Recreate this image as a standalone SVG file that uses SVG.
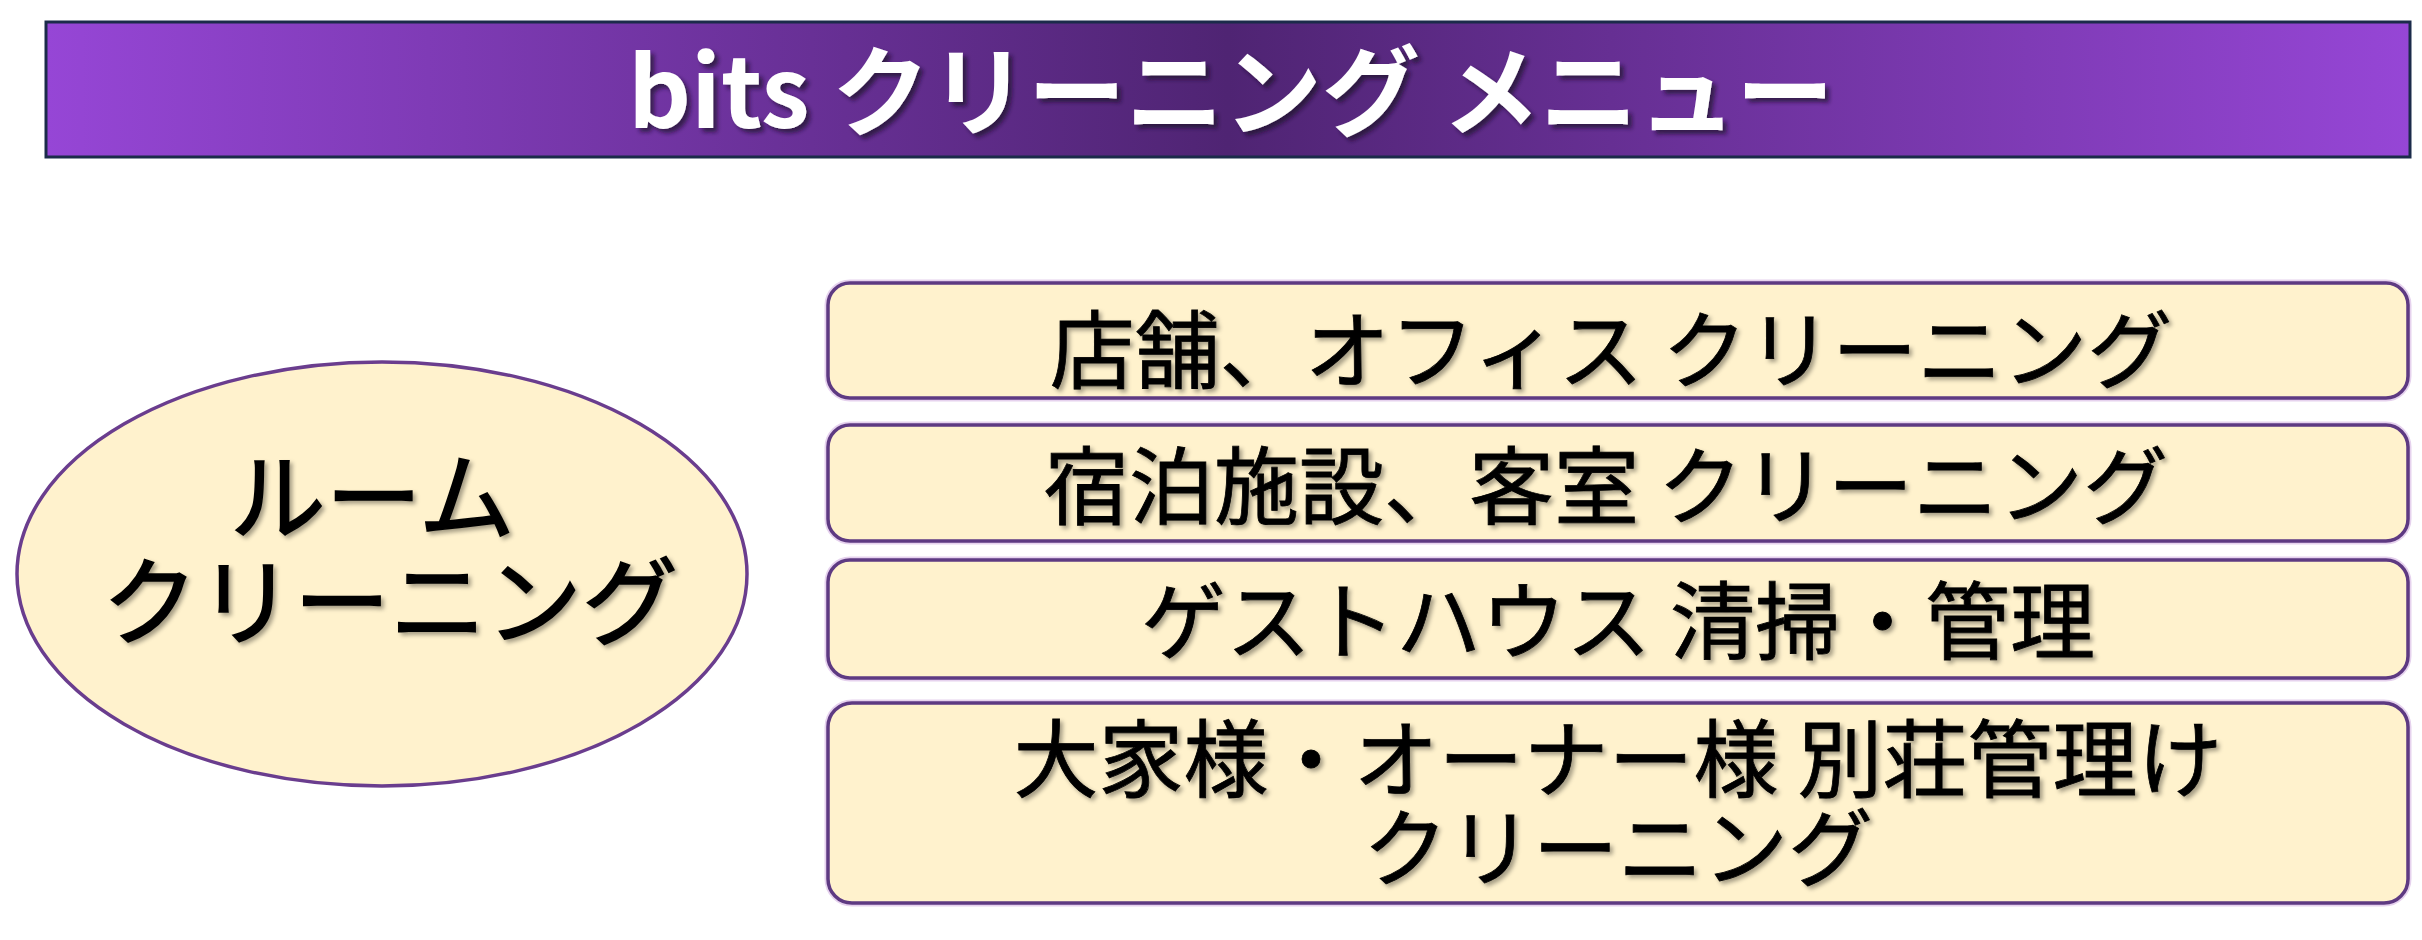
<svg xmlns="http://www.w3.org/2000/svg" width="2422" height="940" viewBox="0 0 2422 940">
<style>
  .jp { font-family: "Noto Sans CJK JP", "Noto Sans", sans-serif; }
  .title { font-size: 98px; font-weight: bold; fill: #ffffff; }
  .lbl { font-size: 85px; font-weight: normal; fill: #000000; stroke: #000000; stroke-width: 0.8; }
  .big { font-size: 96px; font-weight: normal; fill: #000000; stroke: #000000; stroke-width: 1.6; }
  .box { fill: #fff2cd; stroke: #5e3a82; stroke-width: 3.5; }
  .halo { fill: none; stroke: #e6d2ee; stroke-width: 7; }
</style>
<defs>
  <linearGradient id="titleGrad" x1="0" y1="0" x2="1" y2="0">
    <stop offset="0" stop-color="#9646d6"/>
    <stop offset="0.5" stop-color="#4f2473"/>
    <stop offset="1" stop-color="#9646d6"/>
  </linearGradient>
  <filter id="shadowDark" x="-10%" y="-20%" width="120%" height="150%">
    <feDropShadow dx="4" dy="4" stdDeviation="2" flood-color="#1a0a2a" flood-opacity="0.7"/>
  </filter>
  <filter id="shadowGrey" x="-10%" y="-20%" width="120%" height="150%">
    <feDropShadow dx="3" dy="3" stdDeviation="2" flood-color="#000000" flood-opacity="0.35"/>
  </filter>
</defs>
<rect width="2422" height="940" fill="#ffffff"/>

<g id="title">
  <rect x="46" y="22" width="2364" height="135" fill="url(#titleGrad)" stroke="#1b2b4a" stroke-width="3"/>
  <text class="jp title" x="1231" y="128" text-anchor="middle" filter="url(#shadowDark)" xml:space="preserve">bits クリーニング メニュー</text>
</g>

<g id="room-cleaning">
  <ellipse cx="382" cy="574" rx="365" ry="212" fill="#fff2cd" stroke="#6a3d8e" stroke-width="3.5"/>
  <text class="jp big" text-anchor="middle" filter="url(#shadowGrey)">
    <tspan x="383" y="532">ルーム</tspan>
    <tspan x="390" y="637">クリーニング</tspan>
  </text>
</g>

<g id="connectors"></g>

<g id="menu-store-office">
  <rect class="halo" x="828" y="283" width="1580" height="115" rx="22"/>
  <rect class="box" x="828" y="283" width="1580" height="115" rx="22"/>
  <text class="jp lbl" x="1611" y="382" text-anchor="middle" filter="url(#shadowGrey)" xml:space="preserve">店舗、オフィス クリーニング</text>
</g>

<g id="menu-lodging">
  <rect class="halo" x="828" y="425" width="1580" height="116" rx="22"/>
  <rect class="box" x="828" y="425" width="1580" height="116" rx="22"/>
  <text class="jp lbl" x="1606" y="518" text-anchor="middle" filter="url(#shadowGrey)" xml:space="preserve">宿泊施設、客室 クリーニング</text>
</g>

<g id="menu-guesthouse">
  <rect class="halo" x="828" y="560" width="1580" height="118" rx="22"/>
  <rect class="box" x="828" y="560" width="1580" height="118" rx="22"/>
  <text class="jp lbl" x="1618" y="653" text-anchor="middle" filter="url(#shadowGrey)" xml:space="preserve">ゲストハウス 清掃・管理</text>
</g>

<g id="menu-owner">
  <rect class="halo" x="828" y="703" width="1580" height="200" rx="24"/>
  <rect class="box" x="828" y="703" width="1580" height="200" rx="24"/>
  <text class="jp lbl" text-anchor="middle" filter="url(#shadowGrey)" xml:space="preserve"><tspan x="1618" y="791">大家様・オーナー様 別荘管理け</tspan><tspan x="1618" y="880">クリーニング</tspan></text>
</g>
</svg>
